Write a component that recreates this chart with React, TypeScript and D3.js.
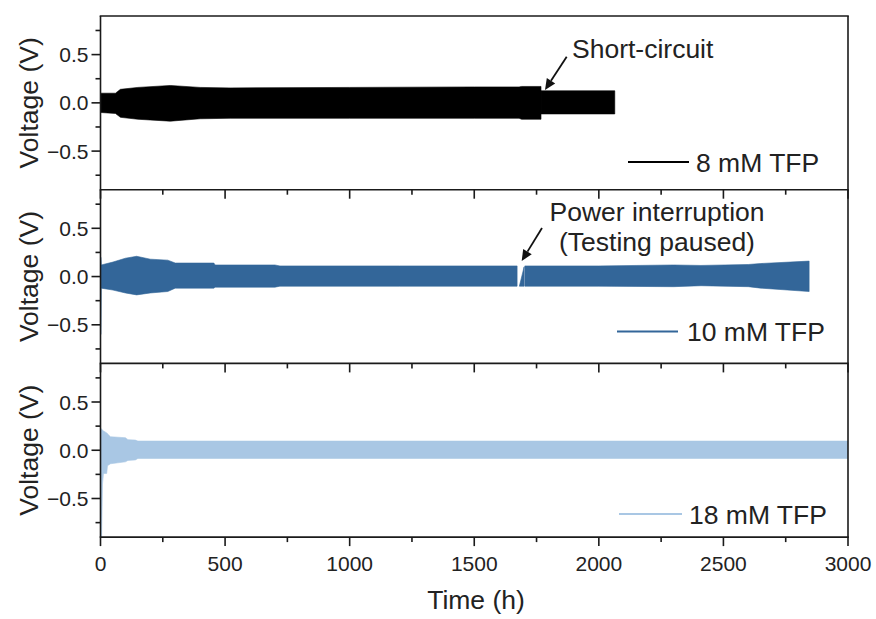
import React from "react";
import * as d3 from "d3";

// ---- data ----
const timeTicks = [0, 500, 1000, 1500, 2000, 2500, 3000];
const timeMinorTicks = [250, 750, 1250, 1750, 2250, 2750];
const voltTicks = [-0.5, 0.0, 0.5];
const voltMinorTicks = [-0.75, -0.25, 0.25, 0.75];

// 8 mM TFP envelope (upper / lower of dense oscillation)
const tfp8Time = [0, 60, 80, 150, 280, 400, 520, 1000, 1500, 1680, 1690, 1768];
const tfp8Upper = [0.10, 0.10, 0.14, 0.16, 0.18, 0.16, 0.155, 0.16, 0.165, 0.165, 0.17, 0.17];
const tfp8Lower = [-0.10, -0.11, -0.15, -0.17, -0.19, -0.165, -0.16, -0.16, -0.16, -0.16, -0.17, -0.17];
// after short-circuit
const tfp8ShortTime = [1768, 2064];
const tfp8ShortUpper = [0.125, 0.125];
const tfp8ShortLower = [-0.115, -0.115];

// 10 mM TFP, before power interruption
const tfp10Time1 = [0, 2, 3, 50, 100, 145, 200, 270, 300, 455, 460, 700, 720, 1200, 1672];
const tfp10Upper1 = [0.2, 0.2, 0.12, 0.15, 0.19, 0.21, 0.18, 0.17, 0.14, 0.14, 0.12, 0.12, 0.11, 0.11, 0.11];
const tfp10Lower1 = [-0.6, -0.6, -0.12, -0.14, -0.17, -0.19, -0.17, -0.155, -0.12, -0.12, -0.11, -0.11, -0.1, -0.1, -0.1];
// slanted piece at the interruption
const tfp10BreakTime = [1681, 1700];
const tfp10BreakUpper = [-0.1, 0.1];
const tfp10BreakLower = [-0.1, -0.1];
// after restart
const tfp10Time2 = [1703, 2000, 2300, 2410, 2600, 2650, 2844];
const tfp10Upper2 = [0.11, 0.11, 0.12, 0.115, 0.125, 0.135, 0.16];
const tfp10Lower2 = [-0.1, -0.1, -0.105, -0.095, -0.105, -0.12, -0.155];

// 18 mM TFP
const tfp18Time = [0, 4, 8, 12, 25, 28, 40, 100, 110, 140, 150, 3000];
const tfp18Upper = [0.23, 0.22, 0.21, 0.2, 0.18, 0.17, 0.14, 0.13, 0.11, 0.105, 0.095, 0.095];
const tfp18Lower = [-0.95, -0.95, -0.35, -0.24, -0.24, -0.16, -0.14, -0.12, -0.105, -0.10, -0.085, -0.085];

const seriesNames = ["8 mM TFP", "10 mM TFP", "18 mM TFP"];
const seriesColors = ["#000000", "#336699", "#a9c7e4"];

// ---- layout ----
const W = 876;
const H = 619;
const left = 100.5;
const right = 848;
const panelTop = 16;
const panelH = 173.7;
const FONT = "Arial, 'Liberation Sans', Helvetica, sans-serif";
const AXIS = "#1a1a1a";
const BIG = 26.5;

type Band = { t: number; u: number; l: number };
const zipBand = (t: number[], u: number[], l: number[]): Band[] =>
  t.map((v, i) => ({ t: v, u: u[i], l: l[i] }));

const x = d3.scaleLinear().domain([0, 3000]).range([left, right]);

function Panel({ idx, bands, color, legendY, lineX0, lineX1, textX }: any) {
  const y0 = panelTop + idx * panelH;
  const y = d3.scaleLinear().domain([-0.9, 0.9]).range([y0 + panelH, y0]);
  const area = d3
    .area<Band>()
    .x((d) => x(d.t))
    .y0((d) => y(d.l))
    .y1((d) => y(d.u));
  const clipId = `clip${idx}`;
  const yb = y0 + panelH;
  return (
    <g>
      <defs>
        <clipPath id={clipId}>
          <rect x={left} y={y0} width={right - left} height={panelH} />
        </clipPath>
      </defs>
      <g clipPath={`url(#${clipId})`}>
        {bands.map((b: Band[], i: number) => (
          <path key={i} d={area(b) || ""} fill={color} stroke={color} strokeWidth={0.6} />
        ))}
      </g>
      {/* frame */}
      <line x1={left} x2={left} y1={y0} y2={yb} stroke={AXIS} strokeWidth={1.6} />
      <line x1={right} x2={right} y1={y0} y2={yb} stroke={AXIS} strokeWidth={1.6} />
      <line x1={left - 0.8} x2={right + 0.8} y1={yb} y2={yb} stroke={AXIS} strokeWidth={1.6} />
      {idx === 0 && (
        <line x1={left - 0.8} x2={right + 0.8} y1={y0} y2={y0} stroke={AXIS} strokeWidth={1.6} />
      )}
      {/* y ticks */}
      {voltTicks.map((v) => (
        <g key={v}>
          <line x1={left - 9} x2={left} y1={y(v)} y2={y(v)} stroke={AXIS} strokeWidth={1.6} />
          <text
            x={left - 12}
            y={y(v)}
            dy="0.36em"
            textAnchor="end"
            fontSize={21}
            fontFamily={FONT}
            fill="#222"
          >
            {d3.format(".1f")(v)}
          </text>
        </g>
      ))}
      {voltMinorTicks.map((v) => (
        <line key={v} x1={left - 5} x2={left} y1={y(v)} y2={y(v)} stroke={AXIS} strokeWidth={1.6} />
      ))}
      {/* x ticks */}
      {timeTicks.map((t) => (
        <line key={t} x1={x(t)} x2={x(t)} y1={yb} y2={yb + 9} stroke={AXIS} strokeWidth={1.6} />
      ))}
      {timeMinorTicks.map((t) => (
        <line key={t} x1={x(t)} x2={x(t)} y1={yb} y2={yb + 5} stroke={AXIS} strokeWidth={1.6} />
      ))}
      <text
        transform={`translate(${29},${y(0)}) rotate(-90)`}
        textAnchor="middle"
        dy="0.35em"
        fontSize={BIG}
        fontFamily={FONT}
        fill="#222"
      >
        Voltage (V)
      </text>
      {/* legend */}
      <line x1={lineX0} x2={lineX1} y1={legendY} y2={legendY} stroke={color} strokeWidth={2} />
      <text x={textX} y={legendY} dy="0.36em" fontSize={BIG} fontFamily={FONT} fill="#222">
        {seriesNames[idx]}
      </text>
    </g>
  );
}

function Arrow({ x1, y1, x2, y2 }: any) {
  const ang = Math.atan2(y2 - y1, x2 - x1);
  const len = 11;
  const wid = 5;
  const bx = x2 - len * Math.cos(ang);
  const by = y2 - len * Math.sin(ang);
  const px = -Math.sin(ang) * wid;
  const py = Math.cos(ang) * wid;
  return (
    <g>
      <line x1={x1} y1={y1} x2={bx} y2={by} stroke="#111" strokeWidth={1.8} />
      <path d={`M${x2},${y2}L${bx + px},${by + py}L${bx - px},${by - py}Z`} fill="#111" />
    </g>
  );
}

export default function App() {
  const b8 = [zipBand(tfp8Time, tfp8Upper, tfp8Lower), zipBand(tfp8ShortTime, tfp8ShortUpper, tfp8ShortLower)];
  const b10 = [
    zipBand(tfp10Time1, tfp10Upper1, tfp10Lower1),
    zipBand(tfp10BreakTime, tfp10BreakUpper, tfp10BreakLower),
    zipBand(tfp10Time2, tfp10Upper2, tfp10Lower2),
  ];
  const b18 = [zipBand(tfp18Time, tfp18Upper, tfp18Lower)];
  return (
    <svg width={W} height={H} style={{ position: "absolute", left: 0, top: 0, background: "#fff" }}>
      <rect width={W} height={H} fill="#fff" />
      <Panel idx={0} bands={b8} color={seriesColors[0]} legendY={162} lineX0={628} lineX1={689} textX={696} />
      <Panel idx={1} bands={b10} color={seriesColors[1]} legendY={331.5} lineX0={617} lineX1={678} textX={687} />
      <Panel idx={2} bands={b18} color={seriesColors[2]} legendY={514} lineX0={619} lineX1={682} textX={689} />
      {timeTicks.map((t) => (
        <text
          key={t}
          x={x(t)}
          y={570.5}
          textAnchor="middle"
          fontSize={21}
          fontFamily={FONT}
          fill="#222"
        >
          {t}
        </text>
      ))}
      <text x={476} y={608.5} textAnchor="middle" fontSize={BIG} fontFamily={FONT} fill="#222">
        Time (h)
      </text>
      {/* annotations */}
      <text x={572} y={58} fontSize={BIG} fontFamily={FONT} fill="#222">
        Short-circuit
      </text>
      <Arrow x1={566.7} y1={56.7} x2={545} y2={90} />
      <text x={657} y={221} textAnchor="middle" fontSize={BIG} fontFamily={FONT} fill="#222">
        Power interruption
      </text>
      <text x={657} y={251} textAnchor="middle" fontSize={BIG} fontFamily={FONT} fill="#222">
        (Testing paused)
      </text>
      <Arrow x1={542} y1={228} x2={521.7} y2={261} />
    </svg>
  );
}
